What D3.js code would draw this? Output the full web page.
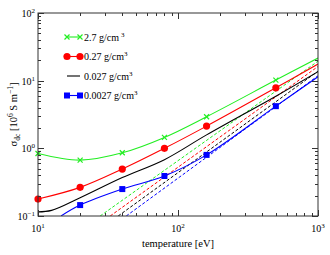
<!DOCTYPE html>
<html>
<head>
<meta charset="utf-8">
<script src="https://cdn.jsdelivr.net/npm/d3@7"></script>
<style>
  body { margin: 0; background: #fff; }
  svg text { font-family: "Liberation Serif", "DejaVu Serif", serif; fill: #000; }
</style>
</head>
<body>
<div id="chart"></div>
<script>
// solid curves (temperature in eV, sigma in 10^6 S/m)
const greenT = [10, 20, 40, 80, 160, 500, 1000];
const greenS = [0.84, 0.67, 0.86, 1.45, 2.93, 10.2, 21.6];
const redT = [10, 20, 40, 80, 160, 500, 1000];
const redS = [0.178, 0.265, 0.494, 1.0, 2.13, 7.85, 17.6];
const blackT = [10, 12.5, 20, 40, 80, 160, 500, 1000];
const blackS = [0.115, 0.121, 0.186, 0.37, 0.68, 1.58, 5.9, 13.6];
const blueT = [14.6, 20, 40, 80, 160, 500, 1000];
const blueS = [0.1, 0.145, 0.25, 0.39, 0.8, 4.2, 11.4];

// marker positions (subset of the curves)
const markT = [10, 20, 40, 80, 160, 500];

// dashed power-law curves
const dashT = [[27.8, 1000], [32.8, 1000], [37.4, 1000], [42.7, 1000]];
const dashS = [[0.1, 19.4], [0.1, 16.2], [0.1, 13.8], [0.1, 11.8]];

const legendLabels = ["2.7 g/cm", "0.27 g/cm", "0.027 g/cm", "0.0027 g/cm"];
const xTicks = [10, 100, 1000];
const yTicks = [0.1, 1, 10, 100];

const W = 330, H = 255;
const margin = { left: 38, right: 12, top: 13, bottom: 39 };

const svg = d3.select('#chart').append('svg')
    .attr('width', W)
    .attr('height', H);

const x = d3.scaleLog().domain([10, 1000]).range([margin.left, W - margin.right]);
const y = d3.scaleLog().domain([0.1, 100]).range([H - margin.bottom, margin.top]);

const colors = ['#22ee22', '#ff0000', '#000000', '#0000ff'];

// clip
svg.append('clipPath').attr('id', 'clip')
    .append('rect')
    .attr('x', margin.left).attr('y', margin.top)
    .attr('width', x.range()[1] - margin.left)
    .attr('height', y.range()[0] - margin.top);

const plot = svg.append('g').attr('clip-path', 'url(#clip)');

const line = d3.line()
    .x(d => x(d[0]))
    .y(d => y(d[1]))
    .curve(d3.curveCatmullRom.alpha(0.5));

// dashed lines
dashT.forEach((ts, i) => {
    const pts = ts.map((t, j) => [t, dashS[i][j]]);
    plot.append('path')
        .attr('d', d3.line().x(d => x(d[0])).y(d => y(d[1]))(pts))
        .attr('fill', 'none')
        .attr('stroke', colors[i])
        .attr('stroke-width', 1)
        .attr('stroke-dasharray', '3,2');
});

const solids = [[greenT, greenS], [redT, redS], [blackT, blackS], [blueT, blueS]];
solids.forEach(([ts, ss], i) => {
    const pts = ts.map((t, j) => [t, ss[j]]);
    plot.append('path')
        .attr('d', line(pts))
        .attr('fill', 'none')
        .attr('stroke', colors[i])
        .attr('stroke-width', 1.1);
});

// markers
function drawMarker(g, kind, cx, cy, color) {
    if (kind === 'x') {
        const s = 2.5;
        g.append('path')
            .attr('d', `M${cx - s},${cy - s}L${cx + s},${cy + s}M${cx - s},${cy + s}L${cx + s},${cy - s}`)
            .attr('stroke', color).attr('stroke-width', 1.2);
    } else if (kind === 'o') {
        g.append('circle').attr('cx', cx).attr('cy', cy).attr('r', 3.6).attr('fill', color);
    } else if (kind === 's') {
        g.append('rect').attr('x', cx - 3).attr('y', cy - 3).attr('width', 6).attr('height', 6).attr('fill', color);
    }
}

const markKinds = ['x', 'o', null, 's'];
solids.forEach(([ts, ss], i) => {
    if (!markKinds[i]) return;
    markT.forEach(t => {
        const j = ts.indexOf(t);
        if (j < 0) return;
        drawMarker(svg, markKinds[i], x(t), y(ss[j]), colors[i]);
    });
});

// frame
const x0 = x.range()[0], x1 = x.range()[1], y0 = y.range()[0], y1 = y.range()[1];
svg.append('rect')
    .attr('x', x0).attr('y', y1)
    .attr('width', x1 - x0).attr('height', y0 - y1)
    .attr('fill', 'none').attr('stroke', '#333').attr('stroke-width', 1);

// ticks (inward on all four sides)
function minorsOf(domain) {
    const out = [];
    for (let e = Math.log10(domain[0]); e < Math.log10(domain[1]); e++) {
        for (let k = 1; k <= 9; k++) out.push({ v: k * Math.pow(10, e), major: k === 1 });
    }
    out.push({ v: domain[1], major: true });
    return out;
}
const tickG = svg.append('g').attr('stroke', '#333').attr('stroke-width', 1);
minorsOf(x.domain()).forEach(t => {
    const len = t.major ? 6 : 3;
    const px = Math.round(x(t.v)) + 0.5;
    tickG.append('line').attr('x1', px).attr('x2', px).attr('y1', y0).attr('y2', y0 - len);
    tickG.append('line').attr('x1', px).attr('x2', px).attr('y1', y1).attr('y2', y1 + len);
});
minorsOf(y.domain()).forEach(t => {
    const len = t.major ? 6 : 3;
    const py = Math.round(y(t.v)) + 0.5;
    tickG.append('line').attr('x1', x0).attr('x2', x0 + len).attr('y1', py).attr('y2', py);
    tickG.append('line').attr('x1', x1).attr('x2', x1 - len).attr('y1', py).attr('y2', py);
});

// tick labels
xTicks.forEach(t => {
    const tx = svg.append('text')
        .attr('x', x(t)).attr('y', y0 + 16)
        .attr('text-anchor', 'middle')
        .attr('font-size', 10);
    tx.append('tspan').text('10');
    tx.append('tspan').attr('font-size', 7).attr('dy', -4).text(Math.round(Math.log10(t)));
});
yTicks.forEach(t => {
    const ty = svg.append('text')
        .attr('x', x0 - 3).attr('y', y(t) + 4)
        .attr('text-anchor', 'end')
        .attr('font-size', 10);
    ty.append('tspan').text('10');
    ty.append('tspan').attr('font-size', 7).attr('dy', -4).text(Math.round(Math.log10(t)).toString().replace('-', '\u2212'));
});

// axis titles
svg.append('text')
    .attr('x', (x0 + x1) / 2).attr('y', y0 + 31)
    .attr('text-anchor', 'middle')
    .attr('font-size', 10.5)
    .text('temperature [eV]');

const yl = svg.append('text')
    .attr('transform', `translate(17,${(y0 + y1) / 2}) rotate(-90)`)
    .attr('text-anchor', 'middle')
    .attr('font-size', 10.5);
yl.append('tspan').text('\u03c3');
yl.append('tspan').attr('font-size', 7.5).attr('dy', 2.5).text('dc');
yl.append('tspan').attr('dy', -2.5).text(' [10');
yl.append('tspan').attr('font-size', 7.5).attr('dy', -4).text('6');
yl.append('tspan').attr('dy', 4).text(' S m');
yl.append('tspan').attr('font-size', 7.5).attr('dy', -4).text('\u22121');
yl.append('tspan').attr('dy', 4).text(']');

// legend
const legY = [37, 56.5, 76, 95.5];
legendLabels.forEach((lab, i) => {
    const ly = legY[i];
    svg.append('line')
        .attr('x1', 67).attr('x2', 80).attr('y1', ly).attr('y2', ly)
        .attr('stroke', colors[i]).attr('stroke-width', 1.1);
    if (markKinds[i]) {
        drawMarker(svg, markKinds[i], 67, ly, colors[i]);
        drawMarker(svg, markKinds[i], 80, ly, colors[i]);
    }
    const lt = svg.append('text')
        .attr('x', 84).attr('y', ly + 3.5)
        .attr('font-size', 10);
    lt.append('tspan').text(lab);
    lt.append('tspan').attr('font-size', 7).attr('dy', -4).attr('dx', i === 0 ? 2 : 0).text('3');
});
</script>
</body>
</html>
